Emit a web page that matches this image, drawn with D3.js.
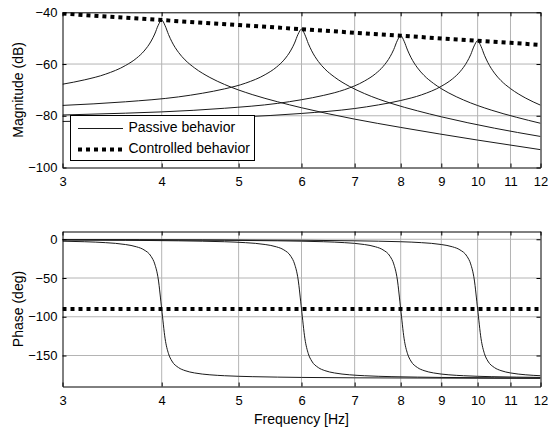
<!DOCTYPE html>
<html>
<head>
<meta charset="utf-8">
<script src="https://cdn.jsdelivr.net/npm/d3@7"></script>
<style>
  body { margin: 0; background: #fff; }
  text { font-family: 'Liberation Sans', Arial, sans-serif; fill: #000; }
</style>
</head>
<body>
<div id="chart"></div>
<script>
// tick labels
const freqTicks = [3, 4, 5, 6, 7, 8, 9, 10, 11, 12]
const magTicks = [-100, -80, -60, -40]
const phaseTicks = [-150, -100, -50, 0]

// controlled behavior
const ctrlFreq = [3, 4, 5, 6, 7, 8, 9, 10, 11, 12]
const ctrlMag = [-40.5, -43.0, -44.95, -46.5, -47.9, -49.05, -50.1, -51.0, -51.8, -52.6]
const ctrlPhase = [-90, -90, -90, -90, -90, -90, -90, -90, -90, -90]

// passive behavior, mode at 4 Hz
const freq4 = [3.0, 3.2, 3.4, 3.6, 3.72, 3.8, 3.88, 3.92, 3.96, 4.0, 4.04, 4.08, 4.12, 4.2, 4.28, 4.4, 4.6, 4.8, 5.2, 5.6, 6.0, 7.0, 8.0, 10.0, 12.0]
const mag4 = [-67.8, -66.1, -63.9, -60.6, -57.7, -55.0, -51.1, -48.4, -45.0, -43.0, -45.2, -48.6, -51.4, -55.5, -58.4, -61.5, -65.2, -67.9, -71.8, -74.6, -76.9, -81.3, -84.5, -89.4, -93.1]
const phase4 = [-2.5, -3.2, -4.4, -6.8, -9.8, -13.7, -22.3, -31.8, -51.2, -90, -128.5, -147.7, -157.1, -165.6, -169.5, -172.5, -174.9, -176.1, -177.3, -177.9, -178.3, -178.8, -179.0, -179.3, -179.5]

// mode at 6 Hz
const freq6 = [3.0, 3.6, 4.2, 4.5, 4.8, 5.1, 5.4, 5.58, 5.7, 5.82, 5.88, 5.94, 6.0, 6.06, 6.12, 6.18, 6.3, 6.42, 6.6, 6.9, 7.2, 7.8, 8.4, 9.0, 10.5, 12.0]
const mag6 = [-76.0, -74.6, -72.7, -71.3, -69.6, -67.4, -64.1, -61.2, -58.5, -54.6, -51.9, -48.5, -46.5, -48.7, -52.1, -54.9, -59.0, -61.9, -65.0, -68.7, -71.4, -75.3, -78.1, -80.4, -84.8, -88.0]
const phase6 = [-1.0, -1.3, -2.0, -2.5, -3.2, -4.4, -6.8, -9.8, -13.7, -22.3, -31.8, -51.2, -90, -128.5, -147.7, -157.1, -165.6, -169.5, -172.5, -174.9, -176.1, -177.3, -177.9, -178.3, -178.8, -179.0]

// mode at 8 Hz
const freq8 = [3.0, 3.6, 4.0, 4.8, 5.6, 6.0, 6.4, 6.8, 7.2, 7.44, 7.6, 7.76, 7.84, 7.92, 8.0, 8.08, 8.16, 8.24, 8.4, 8.56, 8.8, 9.2, 9.6, 10.4, 11.2, 12.0]
const mag8 = [-79.7, -79.0, -78.5, -77.1, -75.2, -73.8, -72.1, -69.9, -66.6, -63.7, -61.0, -57.1, -54.4, -51.0, -49.0, -51.2, -54.6, -57.4, -61.5, -64.4, -67.5, -71.2, -73.9, -77.8, -80.6, -82.9]
const phase8 = [-0.6, -0.8, -1.0, -1.3, -2.0, -2.5, -3.2, -4.4, -6.8, -9.8, -13.7, -22.3, -31.8, -51.2, -90, -128.5, -147.7, -157.1, -165.6, -169.5, -172.5, -174.9, -176.1, -177.3, -177.9, -178.3]

// mode at 10 Hz
const freq10 = [3.0, 3.75, 4.5, 5.0, 6.0, 7.0, 7.5, 8.0, 8.5, 9.0, 9.3, 9.5, 9.7, 9.8, 9.9, 10.0, 10.1, 10.2, 10.3, 10.5, 10.7, 11.0, 11.5, 12.0]
const mag10 = [-82.2, -81.7, -81.0, -80.5, -79.1, -77.2, -75.8, -74.1, -71.9, -68.6, -65.7, -63.0, -59.1, -56.4, -53.0, -51.0, -53.2, -56.6, -59.4, -63.5, -66.4, -69.5, -73.2, -75.9]
const phase10 = [-0.5, -0.6, -0.8, -1.0, -1.3, -2.0, -2.5, -3.2, -4.4, -6.8, -9.8, -13.7, -22.3, -31.8, -51.2, -90, -128.5, -147.7, -157.1, -165.6, -169.5, -172.5, -174.9, -176.1]

const passive = [
  {freq: freq4, mag: mag4, phase: phase4},
  {freq: freq6, mag: mag6, phase: phase6},
  {freq: freq8, mag: mag8, phase: phase8},
  {freq: freq10, mag: mag10, phase: phase10}
]
const controlled = {freq: ctrlFreq, mag: ctrlMag, phase: ctrlPhase}

const width = 548
const height = 429
const left = 62.5
const right = 540.5

const svg = d3.select('#chart')
  .append('svg')
  .attr('width', width)
  .attr('height', height)

const x = d3.scaleLog()
  .domain([3, 12])
  .range([left, right])

const dotted = (sel) => sel
  .attr('stroke', '#000')
  .attr('stroke-width', 4)
  .attr('stroke-dasharray', '4,4')

function panel (top, bottom, domain, ticks, key, label) {
  const y = d3.scaleLinear()
    .domain(domain)
    .range([bottom, top])

  const g = svg.append('g')

  // grid
  g.append('g').selectAll('line')
    .data(freqTicks.slice(1, -1))
    .join('line')
    .attr('x1', d => x(d)).attr('x2', d => x(d))
    .attr('y1', top).attr('y2', bottom)
    .attr('stroke', '#b4b4b4')
    .attr('stroke-width', 1)
  g.append('g').selectAll('line')
    .data(ticks.filter(d => y(d) > top + 1 && y(d) < bottom - 1))
    .join('line')
    .attr('x1', left).attr('x2', right)
    .attr('y1', d => y(d)).attr('y2', d => y(d))
    .attr('stroke', '#b4b4b4')
    .attr('stroke-width', 1)

  const line = d3.line()
    .x(d => x(d[0]))
    .y(d => y(d[1]))
    .curve(d3.curveMonotoneX)

  const clip = 'clip' + key
  svg.append('clipPath').attr('id', clip)
    .append('rect')
    .attr('x', left).attr('y', top)
    .attr('width', right - left).attr('height', bottom - top)

  const curves = g.append('g').attr('clip-path', `url(#${clip})`)

  curves.selectAll('path.passive')
    .data(passive)
    .join('path')
    .attr('class', 'passive')
    .attr('fill', 'none')
    .attr('stroke', '#1a1a1a')
    .attr('stroke-width', 1)
    .attr('d', s => line(s.freq.map((f, i) => [f, s[key][i]])))

  curves.append('path')
    .attr('fill', 'none')
    .call(dotted)
    .attr('d', line.curve(d3.curveLinear)(controlled.freq.map((f, i) => [f, controlled[key][i]])))

  // axes box with inward ticks
  const xAxis = d3.axisBottom(x).tickValues(freqTicks).tickFormat(d3.format('d')).tickSizeInner(-4).tickSizeOuter(0)
  const xTop = d3.axisTop(x).tickValues(freqTicks).tickFormat('').tickSizeInner(-4).tickSizeOuter(0)
  const yAxis = d3.axisLeft(y).tickValues(ticks).tickSizeInner(-4).tickSizeOuter(0)
  const yRight = d3.axisRight(y).tickValues(ticks).tickFormat('').tickSizeInner(-4).tickSizeOuter(0)

  const styleAxis = (a) => {
    a.select('.domain').attr('stroke', '#000')
    a.selectAll('.tick line').attr('stroke', '#000')
    a.selectAll('text').attr('font-size', 13).attr('font-family', "'Liberation Sans', Arial, sans-serif")
  }

  g.append('g').attr('transform', `translate(0,${bottom})`).call(xAxis).call(styleAxis)
    .selectAll('text').attr('dy', null).attr('y', 9).attr('dominant-baseline', 'hanging')
  g.append('g').attr('transform', `translate(0,${top})`).call(xTop).call(styleAxis)
  g.append('g').attr('transform', `translate(${left},0)`).call(yAxis).call(styleAxis)
    .selectAll('text').attr('x', -5)
  g.append('g').attr('transform', `translate(${right},0)`).call(yRight).call(styleAxis)

  svg.append('text')
    .attr('transform', `translate(19,${(top + bottom) / 2}) rotate(-90)`)
    .attr('text-anchor', 'middle')
    .attr('dominant-baseline', 'middle')
    .attr('font-size', 14)
    .text(label)

  return y
}

panel(12.3, 167.5, [-100, -40], magTicks, 'mag', 'Magnitude (dB)')
panel(231.5, 386.5, [-190, 10], phaseTicks, 'phase', 'Phase (deg)')

svg.append('text')
  .attr('x', (left + right) / 2)
  .attr('y', 420)
  .attr('text-anchor', 'middle')
  .attr('dominant-baseline', 'middle')
  .attr('font-size', 14)
  .text('Frequency [Hz]')

// legend
const legend = svg.append('g')
legend.append('rect')
  .attr('x', 70.5).attr('y', 115.5)
  .attr('width', 184).attr('height', 45)
  .attr('fill', '#fff')
  .attr('stroke', '#000')

const items = [
  {label: 'Passive behavior', dashed: false},
  {label: 'Controlled behavior', dashed: true}
]
items.forEach((d, i) => {
  const cy = 128.5 + i * 21
  const l = legend.append('line')
    .attr('x1', 78).attr('x2', 123)
    .attr('y1', cy).attr('y2', cy)
  if (d.dashed) l.call(dotted)
  else l.attr('stroke', '#1a1a1a').attr('stroke-width', 1)
  legend.append('text')
    .attr('x', 128.5).attr('y', cy)
    .attr('dominant-baseline', 'middle')
    .attr('font-size', 14)
    .text(d.label)
})
</script>
</body>
</html>
